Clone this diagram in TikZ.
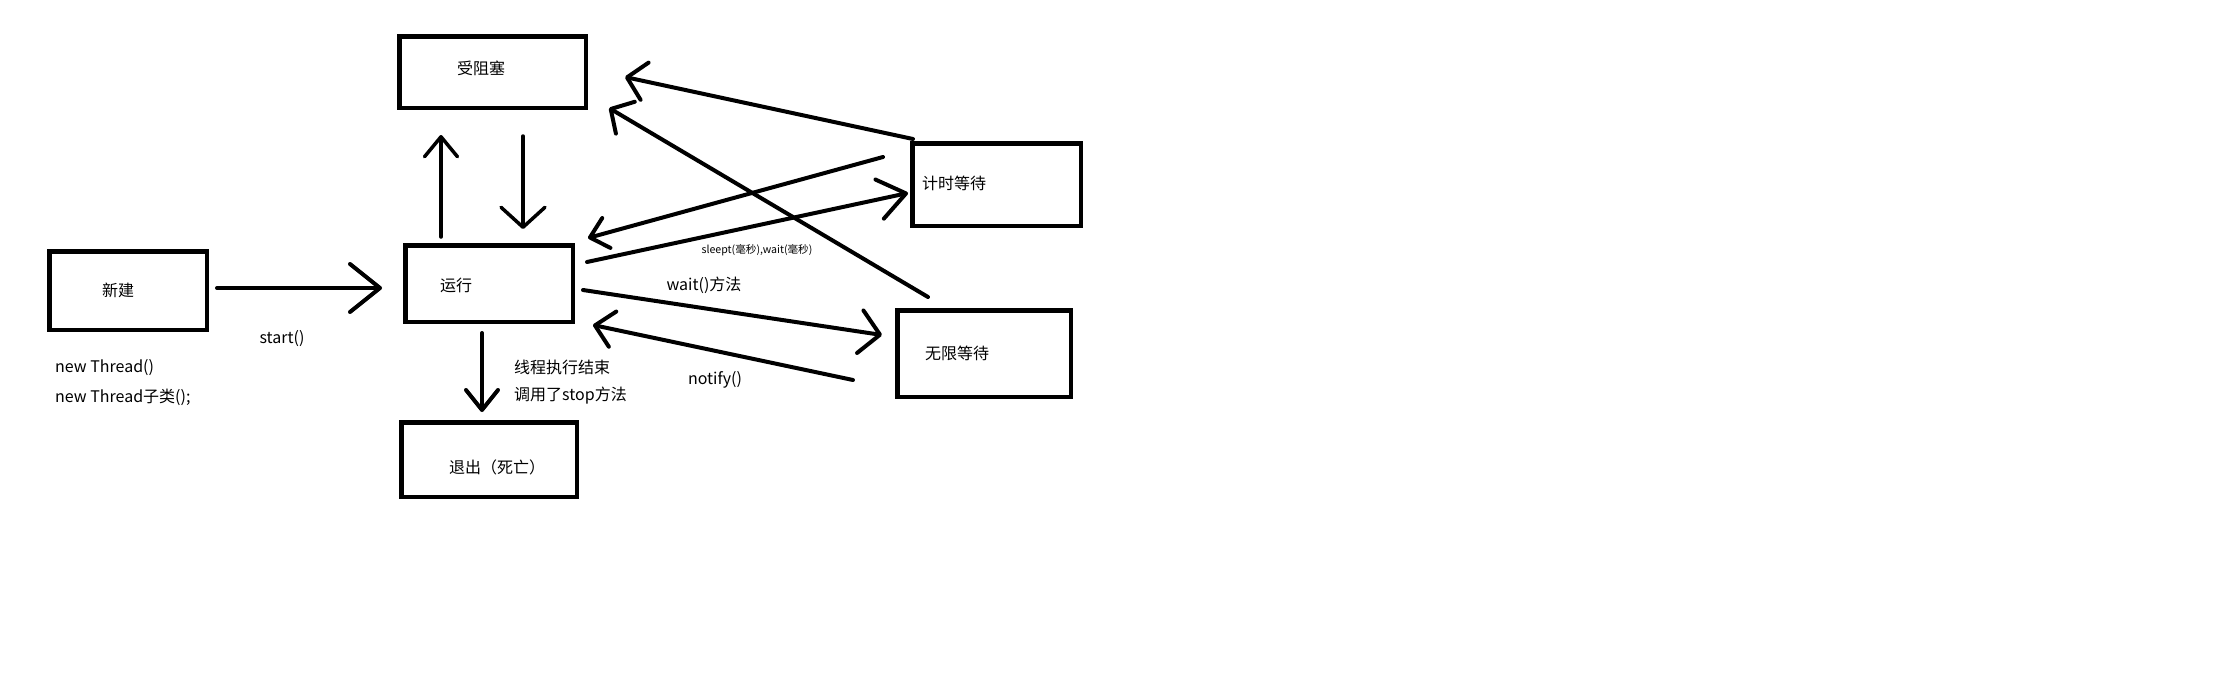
\documentclass[tikz,border=0pt]{standalone}
\usepackage{fontspec}
\setmainfont{Noto Sans CJK SC}
\usetikzlibrary{arrows.meta}

\begin{document}
\begin{tikzpicture}[x=1pt,y=-1pt,
    box/.style={draw,line width=4.5pt,inner sep=0pt,outer sep=0pt},
    lbl/.style={inner sep=0pt,font=\fontsize{16}{19}\selectfont},
    arr/.style={line width=4pt,line cap=round,-{Straight Barb[length=20pt,width=40pt,round]}}]
  \useasboundingbox (0,0) rectangle (2220,683);
  % boxes
  \node[box,minimum width=186.5pt,minimum height=71.5pt] (block) at (492.5,72) {};
  \node[box,minimum width=157.5pt,minimum height=78.5pt] (new)   at (128,290.5) {};
  \node[box,minimum width=167.5pt,minimum height=76.5pt] (run)   at (489,283.5) {};
  \node[box,minimum width=175.5pt,minimum height=74.5pt] (dead)  at (489,459.5) {};
  \node[box,minimum width=168.5pt,minimum height=82.5pt] (timed) at (996.5,184.5) {};
  \node[box,minimum width=173.5pt,minimum height=86.5pt] (wait)  at (984,353.5) {};
  \node[lbl] (blockT) at (481,68)  {受阻塞};
  \node[lbl] (newT)   at (118,290) {新建};
  \node[lbl] (runT)   at (456,285) {运行};
  \node[lbl] (deadT)  at (497,467) {退出（死亡）};
  \node[lbl] (timedT) at (954,183) {计时等待};
  \node[lbl] (waitT)  at (957,353) {无限等待};
  % labels
  \node[lbl] (startL) at (282,339) {start()};
  \node[lbl,anchor=west] (newA) at (55,368) {new Thread()};
  \node[lbl,anchor=west] (newB) at (55,397) {new Thread子类();};
  \node[lbl,anchor=west] (endA) at (514,367) {线程执行结束};
  \node[lbl,anchor=west] (endB) at (514,396) {调用了stop方法};
  \node[lbl] (waitL)   at (704,285) {wait()方法};
  \node[lbl] (notifyL) at (715,380) {notify()};
  \node[inner sep=0pt,font=\fontsize{10.6}{12}\selectfont] (sleepL) at (757,250) {sleept(毫秒),wait(毫秒)};
  % arrow ends
  \coordinate (a1) at (217,288);  \coordinate (b1) at (382,288);
  \coordinate (a2) at (441,237);  \coordinate (b2) at (441,135);
  \coordinate (a3) at (523,136);  \coordinate (b3) at (523,229);
  \coordinate (a4) at (482,333);  \coordinate (b4) at (482,412);
  \coordinate (a5) at (913,139);  \coordinate (b5) at (625,77);
  \coordinate (a6) at (928,297);  \coordinate (b6) at (609,108);
  \coordinate (a7) at (883,157);  \coordinate (b7) at (588,238);
  \coordinate (a8) at (587,262);  \coordinate (b8) at (908,193);
  \coordinate (a9) at (583,290);  \coordinate (b9) at (882,335);
  \coordinate (a10) at (853,380); \coordinate (b10) at (593,325);
  % arrows
  \draw[arr,-{Straight Barb[length=30pt,width=48pt,round]}] (a1) -- (b1);
  \draw[arr,line width=3.5pt,-{Straight Barb[length=20pt,width=33pt,round]}] (a2) -- (b2);
  \draw[arr,line width=3.5pt,-{Straight Barb[length=20pt,width=44pt,round]}] (a3) -- (b3);
  \draw[arr,-{Straight Barb[length=20pt,width=32pt,round]}] (a4) -- (b4);
  \draw[arr,-{Straight Barb[length=18pt,width=38pt,round]}] (a5) -- (b5);
  \draw[arr,-{Straight Barb[length=17pt,width=37pt,round]}] (a6) -- (b6);
  \draw[arr,-{Straight Barb[length=17pt,width=31pt,round]}] (a7) -- (b7);
  \draw[arr,-{Straight Barb[length=27pt,width=40pt,round]}] (a8) -- (b8);
  \draw[arr,-{Straight Barb[length=20pt,width=43pt,round]}] (a9) -- (b9);
  \draw[arr,-{Straight Barb[length=18pt,width=36pt,round]}] (a10) -- (b10);
\end{tikzpicture}
\end{document}
